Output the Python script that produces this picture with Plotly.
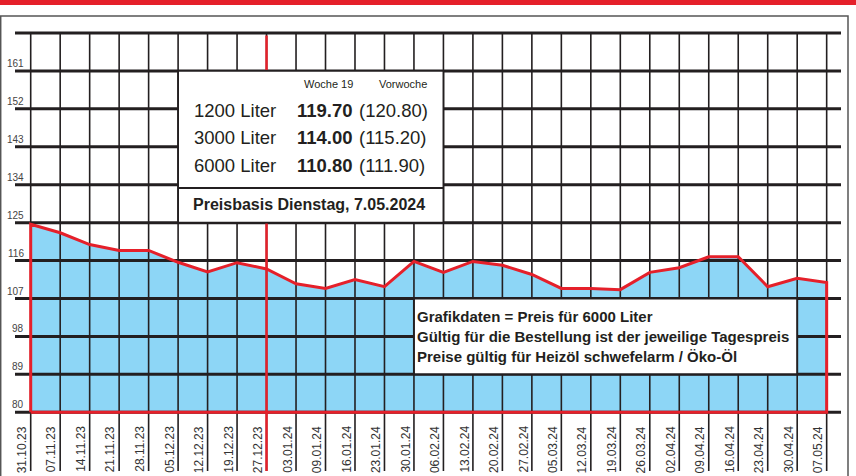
import plotly.graph_objects as go

# ---------------- data ----------------
dates = ["31.10.23", "07.11.23", "14.11.23", "21.11.23", "28.11.23", "05.12.23",
         "12.12.23", "19.12.23", "27.12.23", "03.01.24", "09.01.24", "16.01.24",
         "23.01.24", "30.01.24", "06.02.24", "13.02.24", "20.02.24", "27.02.24",
         "05.03.24", "12.03.24", "19.03.24", "26.03.24", "02.04.24", "09.04.24",
         "16.04.24", "23.04.24", "30.04.24", "07.05.24"]
prices = [124.6, 122.6, 119.8, 118.4, 118.4, 115.6, 113.3, 115.5, 114.0, 110.5,
          109.4, 111.5, 109.8, 115.8, 113.2, 115.8, 114.9, 112.7, 109.4, 109.4,
          109.1, 113.2, 114.3, 116.9, 116.9, 109.8, 111.8, 110.8]
y_ticks = [80, 89, 98, 107, 116, 125, 134, 143, 152, 161]
y_top = 170
year_break = "27.12.23"
table_rows = ["1200 Liter", "3000 Liter", "6000 Liter"]
table_now = ["119.70", "114.00", "110.80"]
table_prev = ["(120.80)", "(115.20)", "(111.90)"]
table_head = ["Woche 19", "Vorwoche"]
price_basis = "Preisbasis Dienstag, 7.05.2024"
notes = ["Grafikdaten = Preis für 6000 Liter",
         "Gültig für die Bestellung ist der jeweilige Tagespreis",
         "Preise gültig für Heizöl schwefelarm / Öko-Öl"]

# ---------------- geometry ----------------
W, H = 856, 476
ML, MR, MT, MB = 15, 15, 28, 5
PW, PH = W - ML - MR, H - MT - MB
X0, X1 = -0.5326, 27.486
Y0, Y1 = 66.07, 171.19


def dx(px):
    return X0 + (px - ML) / PW * (X1 - X0)


def dy(py):
    return Y1 - (py - MT) / PH * (Y1 - Y0)


def px_(px):
    return (px - ML) / PW


def py_(py):
    return (H - MB - py) / PH


BLACK = "#231F20"
RED = "#E5202A"
BLUE = "#8DD6F6"
GREY = "#444444"
SANS = "Liberation Sans, Arial, Helvetica, sans-serif"

n = len(dates)
xs = list(range(n))
fig = go.Figure()

# baseline + filled area
fig.add_trace(go.Scatter(x=xs, y=[y_ticks[0]] * n, mode="lines",
                         line=dict(width=0, color=BLUE), hoverinfo="skip"))
fig.add_trace(go.Scatter(x=xs, y=prices, mode="lines", fill="tonexty",
                         fillcolor=BLUE, line=dict(width=0, color=BLUE),
                         hoverinfo="skip"))

# vertical grid
vx, vy = [], []
for i in xs:
    vx += [i, i, None]
    vy += [Y0, y_top, None]
fig.add_trace(go.Scatter(x=vx, y=vy, mode="lines",
                         line=dict(width=1.6, color=BLACK), hoverinfo="skip"))

# horizontal grid
hx, hy = [], []
for v in y_ticks + [y_top]:
    hx += [X0, X1, None]
    hy += [v, v, None]
fig.add_trace(go.Scatter(x=hx, y=hy, mode="lines",
                         line=dict(width=3, color=BLACK), hoverinfo="skip"))

# red outline of the area
ox = [0] + xs + [n - 1, 0]
oy = [y_ticks[0]] + prices + [y_ticks[0], y_ticks[0]]
fig.add_trace(go.Scatter(x=ox, y=oy, mode="lines",
                         line=dict(width=3, color=RED), hoverinfo="skip"))

# year break red line
yb = dates.index(year_break)
fig.add_trace(go.Scatter(x=[yb, yb], y=[Y0, y_top - 0.6], mode="lines",
                         line=dict(width=2.5, color=RED), hoverinfo="skip"))

shapes = []
# info box 1 (05.12 .. 06.02, 125 .. 161)
b1x0, b1x1 = dates.index("05.12.23"), dates.index("06.02.24")
shapes.append(dict(type="rect", xref="x", yref="y", x0=b1x0, x1=b1x1,
                   y0=125, y1=161, fillcolor="white",
                   line=dict(color=BLACK, width=1.8), layer="above"))
shapes.append(dict(type="line", xref="x", yref="y", x0=b1x0, x1=b1x1,
                   y0=dy(188), y1=dy(188), line=dict(color=BLACK, width=1.8),
                   layer="above"))
# info box 2 (30.01 .. 30.04, 89 .. 107)
b2x0, b2x1 = dates.index("30.01.24"), dates.index("30.04.24")
shapes.append(dict(type="rect", xref="x", yref="y", x0=b2x0, x1=b2x1,
                   y0=89, y1=107, fillcolor="white",
                   line=dict(color=BLACK, width=2), layer="above"))
# top red bar
shapes.append(dict(type="rect", xref="paper", yref="paper",
                   x0=px_(0), x1=px_(W), y0=py_(5), y1=py_(0),
                   fillcolor=RED, line=dict(width=0), layer="above"))
# grey frame
shapes.append(dict(type="path", xref="paper", yref="paper",
                   path=f"M {px_(0.7)} {py_(H + 2)} L {px_(0.7)} {py_(16)} "
                        f"L {px_(848)} {py_(16)} L {px_(848)} {py_(H + 2)}",
                   line=dict(color="#555555", width=1.5), layer="above"))

ann = []
# y tick labels
for v in y_ticks:
    ann.append(dict(x=dx(26), y=v, xref="x", yref="y", text=str(v),
                    showarrow=False, xanchor="right", yanchor="bottom",
                    yshift=0, font=dict(family=SANS, size=10, color=GREY)))
# x tick labels (rotated)
for i, d in enumerate(dates):
    ann.append(dict(x=i - 0.3, y=dy(424), xref="x", yref="y", text=d,
                    showarrow=False, textangle=-90, xanchor="center",
                    yanchor="top", font=dict(family=SANS, size=12, color="#333333")))

# box 1 texts
ann.append(dict(x=dx(328), y=dy(84), xref="x", yref="y", text=table_head[0],
                showarrow=False, xanchor="center", yanchor="middle",
                font=dict(family=SANS, size=11, color=BLACK)))
ann.append(dict(x=dx(402.5), y=dy(84), xref="x", yref="y", text=table_head[1],
                showarrow=False, xanchor="center", yanchor="middle",
                font=dict(family=SANS, size=11, color=BLACK)))
row_y = [110, 137.5, 165]
for r, lab, now, prev in zip(row_y, table_rows, table_now, table_prev):
    ann.append(dict(x=dx(192), y=dy(r), xref="x", yref="y", text=lab,
                    showarrow=False, xanchor="left", yanchor="middle",
                    font=dict(family=SANS, size=18.5, color=BLACK)))
    ann.append(dict(x=dx(355), y=dy(r), xref="x", yref="y", text=f"<b>{now}</b>",
                    showarrow=False, xanchor="right", yanchor="middle",
                    font=dict(family=SANS, size=18.5, color=BLACK)))
    ann.append(dict(x=dx(357), y=dy(r), xref="x", yref="y", text=prev,
                    showarrow=False, xanchor="left", yanchor="middle",
                    font=dict(family=SANS, size=18.5, color=BLACK)))
ann.append(dict(x=dx(309), y=dy(204), xref="x", yref="y",
                text=f"<b>{price_basis}</b>", showarrow=False,
                xanchor="center", yanchor="middle",
                font=dict(family=SANS, size=16, color=BLACK)))

# box 2 texts
for r, t in zip([316, 336.5, 356], notes):
    ann.append(dict(x=dx(415), y=dy(r), xref="x", yref="y", text=f"<b>{t}</b>",
                    showarrow=False, xanchor="left", yanchor="middle",
                    font=dict(family=SANS, size=15, color=BLACK)))

fig.update_layout(
    width=W, height=H, autosize=False,
    margin=dict(l=ML, r=MR, t=MT, b=MB, pad=0),
    paper_bgcolor="white", plot_bgcolor="white",
    showlegend=False,
    xaxis=dict(range=[X0, X1], visible=False, fixedrange=True),
    yaxis=dict(range=[Y0, Y1], visible=False, fixedrange=True),
    shapes=shapes, annotations=ann,
)

fig.write_html("out.html", config={"displayModeBar": False},
               post_script="document.body.style.margin='0';"
                           "document.body.style.overflow='hidden';")
